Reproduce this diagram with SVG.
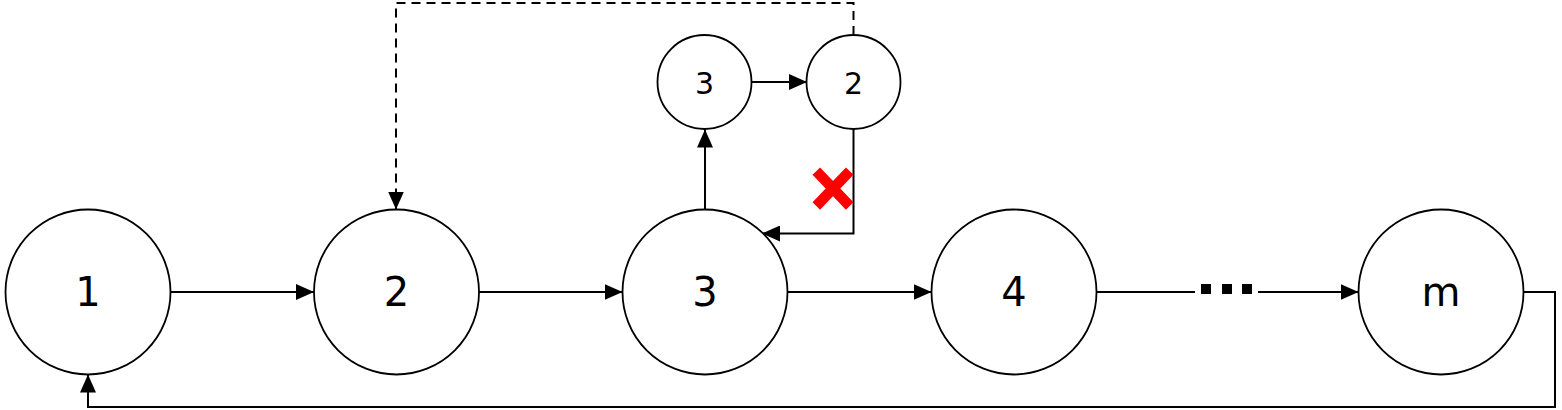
<svg xmlns="http://www.w3.org/2000/svg" width="1562" height="410" viewBox="0 0 1562 410">
  <style>
    .node circle { fill: #ffffff; stroke: #000000; stroke-width: 1.8; }
    .node text { font-family: "DejaVu Sans", "Liberation Sans", sans-serif; fill: #000000; text-anchor: middle; }
    .big text { font-size: 40px; }
    .small text { font-size: 30px; }
    .conn path { fill: none; stroke: #000000; stroke-width: 2; }
    .conn .arrow { marker-end: url(#ah); }
    .conn .dash { stroke-dasharray: 9 6; }
    .dot { fill: #000000; }
    .cross line { stroke: #ff0000; stroke-width: 10.5; stroke-linecap: butt; }
  </style>
  <defs>
    <marker id="ah" markerUnits="userSpaceOnUse" markerWidth="18" markerHeight="16" refX="18" refY="8" orient="auto">
      <path d="M0,0 L18,8 L0,16 z" fill="#000000"/>
    </marker>
  </defs>
  <rect width="1562" height="410" fill="#ffffff"/>

  <g id="connectors" class="conn">
    <path class="arrow" d="M170,292 H314"/>
    <path class="arrow" d="M479,292 H622.5"/>
    <path class="arrow" d="M788,292 H931.5"/>
    <path d="M1096.5,292 H1195"/>
    <rect class="dot" x="1201" y="284" width="10" height="10"/>
    <rect class="dot" x="1222" y="284" width="10" height="10"/>
    <rect class="dot" x="1242" y="284" width="10" height="10"/>
    <path class="arrow" d="M1258,292 H1358.5"/>
    <path class="arrow" d="M1523.5,292 H1555 V407 H88 V374.5"/>
    <path class="arrow" d="M705,210 V129.5"/>
    <path class="arrow" d="M752,82 H807"/>
    <path class="arrow" d="M853.5,129 V233.5 H762"/>
    <path class="arrow dash" d="M853.5,35 V3 H396 V209.5"/>
  </g>

  <g id="node-1" class="node big">
    <circle cx="88" cy="292" r="82.5"/>
    <text x="88" y="305.5">1</text>
  </g>
  <g id="node-2" class="node big">
    <circle cx="396.5" cy="292" r="82.5"/>
    <text x="396.5" y="305.5">2</text>
  </g>
  <g id="node-3" class="node big">
    <circle cx="705" cy="292" r="82.5"/>
    <text x="705" y="305.5">3</text>
  </g>
  <g id="node-4" class="node big">
    <circle cx="1014" cy="292" r="82.5"/>
    <text x="1014" y="305.5">4</text>
  </g>
  <g id="node-m" class="node big">
    <circle cx="1441" cy="292" r="82.5"/>
    <text x="1441" y="305.5">m</text>
  </g>
  <g id="node-small-3" class="node small">
    <circle cx="704.5" cy="82" r="47"/>
    <text x="704.5" y="93.5">3</text>
  </g>
  <g id="node-small-2" class="node small">
    <circle cx="853.5" cy="82" r="47"/>
    <text x="853.5" y="93.5">2</text>
  </g>

  <g id="cross" class="cross">
    <line x1="816.3" y1="171.2" x2="849.7" y2="206"/>
    <line x1="849.7" y1="171.2" x2="816.3" y2="206"/>
  </g>
</svg>
